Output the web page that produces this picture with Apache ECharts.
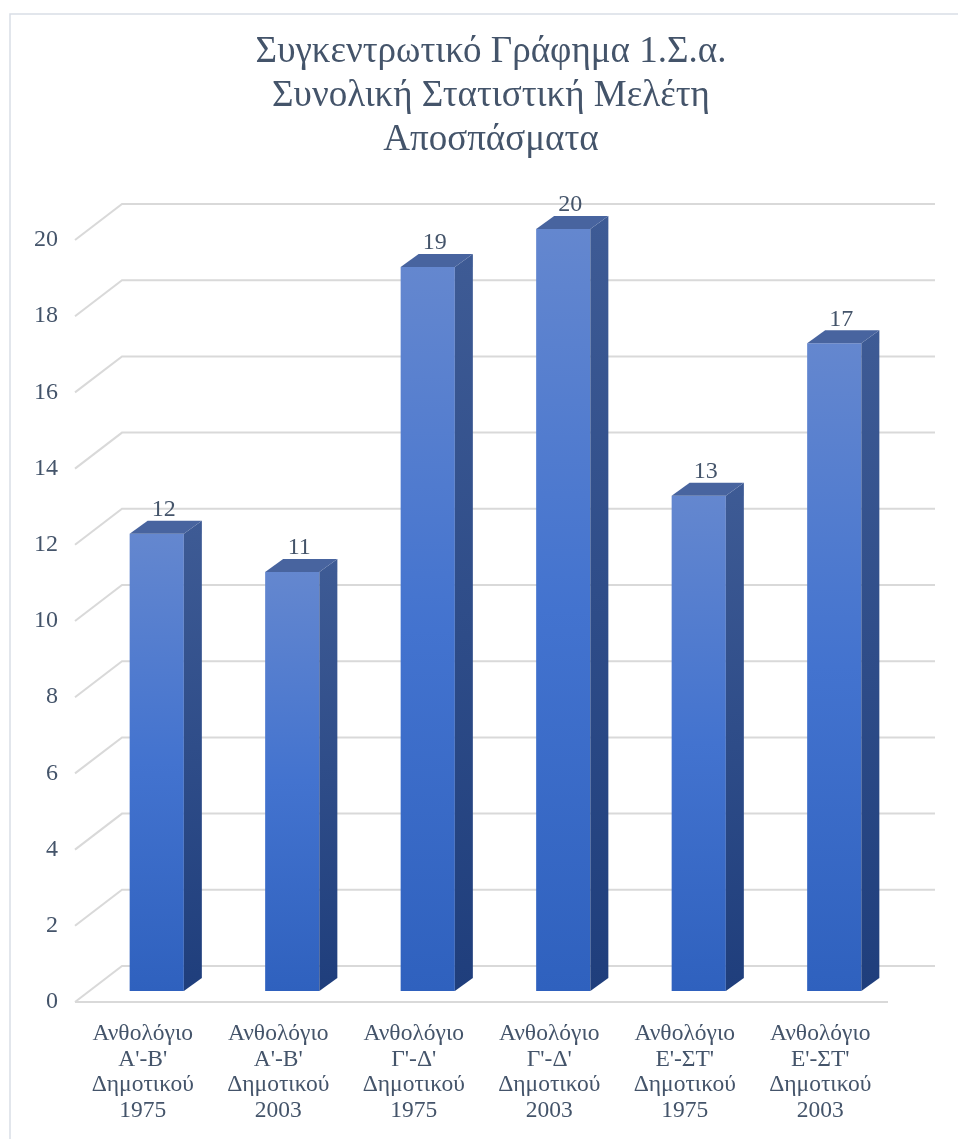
<!DOCTYPE html>
<html>
<head>
<meta charset="utf-8">
<script src="https://cdn.jsdelivr.net/npm/echarts@6/dist/echarts.min.js"></script>
<style>html,body{margin:0;padding:0;background:#fff;}#main{width:958px;height:1139px;}</style>
</head>
<body>
<div id="main"></div>
<script>
const titleLines = ['Συγκεντρωτικό Γράφημα 1.Σ.α.', 'Συνολική Στατιστική Μελέτη', 'Αποσπάσματα'];
const categories = [
  'Ανθολόγιο\nΑ\'-Β\'\nΔημοτικού\n1975',
  'Ανθολόγιο\nΑ\'-Β\'\nΔημοτικού\n2003',
  'Ανθολόγιο\nΓ\'-Δ\'\nΔημοτικού\n1975',
  'Ανθολόγιο\nΓ\'-Δ\'\nΔημοτικού\n2003',
  'Ανθολόγιο\nΕ\'-ΣΤ\'\nΔημοτικού\n1975',
  'Ανθολόγιο\nΕ\'-ΣΤ\'\nΔημοτικού\n2003'
];
const values = [12, 11, 19, 20, 13, 17];
const yTicks = [0, 2, 4, 6, 8, 10, 12, 14, 16, 18, 20];

const FONT = '"Liberation Serif", "Times New Roman", serif';
const TXT = '#44546A';
// depth geometry (pixels)
const WALL = [47, -36];      // back wall offset from front plane
const BAR_FRONT = [14, -11]; // bar front face offset
const BAR_DEPTH = [18, -13]; // bar depth

const chart = echarts.init(document.getElementById('main'), null, {renderer: 'canvas'});

function gridRender(params, api) {
  const cs = params.coordSys;
  const v = api.value(1);
  const y = api.coord([0, v])[1];
  const x0 = cs.x, x1 = cs.x + cs.width;
  const style = {stroke: '#D9D9D9', lineWidth: 2, fill: null};
  const children = [
    {type: 'polyline', shape: {points: [[x0, y], [x0 + WALL[0], y + WALL[1]], [x1 + WALL[0], y + WALL[1]]]}, style: style}
  ];
  if (v === 0) {
    children.push({type: 'line', shape: {x1: x0, y1: y, x2: x1, y2: y}, style: style});
  }
  return {type: 'group', children: children};
}

function barRender(params, api) {
  const i = api.value(0), v = api.value(1);
  const c = api.coord([i, v]);
  const b = api.coord([i, 0]);
  const bw = api.size([1, 0])[0] * 0.4;
  const cx = c[0] + BAR_FRONT[0];
  const xL = cx - bw / 2, xR = cx + bw / 2;
  const yT = c[1] + BAR_FRONT[1], yB = b[1] + BAR_FRONT[1];
  const dx = BAR_DEPTH[0], dy = BAR_DEPTH[1];
  return {
    type: 'group',
    children: [
      {type: 'rect', shape: {x: xL, y: yT, width: bw, height: yB - yT},
        style: {fill: new echarts.graphic.LinearGradient(0, 0, 0, 1, [
          {offset: 0, color: '#6487CF'}, {offset: 0.5, color: '#4373CF'}, {offset: 1, color: '#2F61BE'}])}},
      {type: 'polygon', shape: {points: [[xR, yT], [xR + dx, yT + dy], [xR + dx, yB + dy], [xR, yB]]},
        style: {fill: new echarts.graphic.LinearGradient(0, 0, 0, 1, [
          {offset: 0, color: '#3E5B95'}, {offset: 1, color: '#1F3E7C'}])}},
      {type: 'polygon', shape: {points: [[xL, yT], [xL + dx, yT + dy], [xR + dx, yT + dy], [xR, yT]]},
        style: {fill: '#48649F'}},
      {type: 'text', x: cx + dx / 2 - 2, y: yT + dy - 11,
        style: {text: String(v), font: '24px ' + FONT, fill: TXT, align: 'center', verticalAlign: 'middle'}}
    ]
  };
}

chart.setOption({
  backgroundColor: '#fff',
  animation: false,
  graphic: [
    {type: 'rect', shape: {x: 10, y: 14, width: 1000, height: 1200}, style: {fill: null, stroke: '#D9DEE6', lineWidth: 1.5}, z: -10},
    {type: 'text', x: 491, y: 30, style: {text: titleLines.join('\n'), font: '37px ' + FONT, fill: TXT, align: 'center', verticalAlign: 'top', lineHeight: 44}}
  ],
  grid: {left: 75, right: 70, top: 240, bottom: 137},
  xAxis: {
    type: 'category', data: categories,
    axisLine: {show: false}, axisTick: {show: false}, splitLine: {show: false},
    axisLabel: {interval: 0, margin: 19, fontFamily: FONT, fontSize: 23.5, lineHeight: 25.7, color: TXT}
  },
  yAxis: {
    type: 'value', min: 0, max: 20, interval: 2,
    axisLine: {show: false}, axisTick: {show: false}, splitLine: {show: false},
    axisLabel: {margin: 17, fontFamily: FONT, fontSize: 24, color: TXT, padding: [3, 0, 0, 0]}
  },
  series: [
    {type: 'custom', renderItem: gridRender, data: yTicks.map(t => [0, t]), z: 1, silent: true},
    {type: 'custom', renderItem: barRender, data: values.map((v, i) => [i, v]), z: 2}
  ]
});
</script>
</body>
</html>
